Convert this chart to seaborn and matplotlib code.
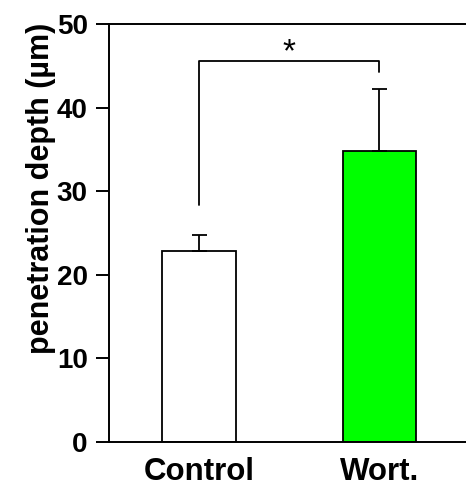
import matplotlib
matplotlib.use("Agg")
import matplotlib.pyplot as plt
import seaborn as sns
import pandas as pd

categories = ["Control", "Wort."]
means = [22.8, 34.8]
sem = [2.0, 7.4]
bar_colors = ["#FFFFFF", "#00FF00"]
y_ticks = [0, 10, 20, 30, 40, 50]

bracket_top = 45.6
bracket_left_end = 28.4
bracket_right_end = 44.3
star_y = 46.6
star_text = "*"

sns.set_theme(style="white")
plt.rcParams["font.family"] = ["Liberation Sans", "DejaVu Sans"]

fig = plt.figure(figsize=(4.66, 4.87), dpi=100)
ax = fig.add_axes([0.234, 0.093, 0.766, 0.857])

df = pd.DataFrame({"group": categories, "depth": means})
sns.barplot(data=df, x="group", y="depth", hue="group", palette=bar_colors,
            saturation=1, width=0.41, edgecolor="black", linewidth=1.3,
            legend=False, ax=ax, errorbar=None)

ax.errorbar(x=range(len(categories)), y=means, yerr=[[0] * len(sem), sem],
            fmt="none", ecolor="black", elinewidth=1.3, capsize=5.4,
            capthick=1.3, zorder=3)

# significance bracket
ax.plot([0, 0, 1, 1], [bracket_left_end, bracket_top, bracket_top, bracket_right_end],
        color="black", linewidth=1.3)
ax.text(0.5, star_y, star_text, ha="center", va="center", fontsize=24,
        color="black")

ax.set_xlim(-0.5, 1.48)
ax.set_ylim(0, 50)
ax.set_yticks(y_ticks)
ax.set_yticklabels([str(t) for t in y_ticks])

for side in ["left", "bottom", "top"]:
    ax.spines[side].set_visible(True)
    ax.spines[side].set_color("black")
    ax.spines[side].set_linewidth(1.4)
ax.spines["right"].set_visible(False)

ax.tick_params(axis="y", direction="out", length=9.4, width=1.4, color="black",
               pad=6, labelsize=20, left=True)
ax.tick_params(axis="x", length=0, pad=11, labelsize=22.5)
for lab in ax.get_yticklabels() + ax.get_xticklabels():
    lab.set_fontweight("bold")
    lab.set_color("black")

ax.set_xlabel("")
ax.set_ylabel("penetration depth (\u00b5m)", fontsize=22, fontweight="bold",
              color="black", labelpad=6)
ax.yaxis.set_label_coords(-0.15, 0.608)

fig.savefig("out.png", dpi=100)
